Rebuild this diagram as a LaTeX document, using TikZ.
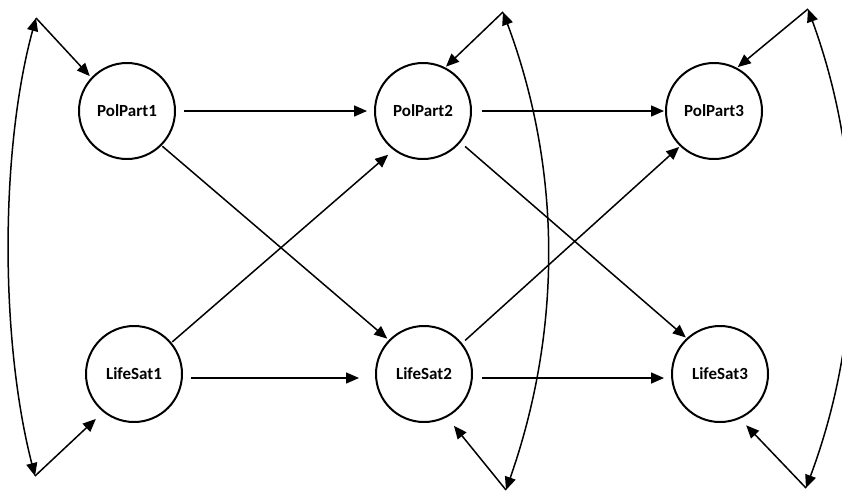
\documentclass[tikz,border=0pt]{standalone}
\usepackage{fontspec}
\setmainfont{Carlito}
\usetikzlibrary{arrows.meta}
\begin{document}
\begin{tikzpicture}[x=1pt,y=-1pt,
  var/.style={circle,draw,line width=2pt,minimum size=96pt,inner sep=0pt,
    font=\bfseries\fontsize{17}{19}\selectfont},
  reg/.style={line width=1.5pt,-{Triangle[length=13pt,width=11pt]}},
  cov/.style={line width=1.5pt,{Triangle[length=13pt,width=11pt]}-{Triangle[length=13pt,width=11pt]}}]
\useasboundingbox (0,0) rectangle (842,496);
\clip (0,0) rectangle (842,496);

% latent variables
\node[var] (p1) at (127,111) {PolPart1};
\node[var] (p2) at (423,111) {PolPart2};
\node[var] (p3) at (714,111) {PolPart3};
\node[var] (l1) at (134,374) {LifeSat1};
\node[var] (l2) at (424,374) {LifeSat2};
\node[var] (l3) at (720,374) {LifeSat3};

% autoregressive paths
\draw[reg,shorten <=8pt,shorten >=7pt] (p1.east) -- (p2.west);
\draw[reg,shorten <=10pt,shorten >=1pt] (p2.east) -- (p3.west);
\draw[reg,shorten <=8pt,shorten >=16pt] ([yshift=-4pt]l1.east) -- ([yshift=-4pt]l2.west);
\draw[reg,shorten <=9pt,shorten >=7pt] ([yshift=-4pt]l2.east) -- ([yshift=-4pt]l3.west);

% cross-lagged paths
\draw[reg,shorten <=1pt,shorten >=2pt] (p1.315) -- (l2.136);
\draw[reg,shorten <=1pt,shorten >=7pt] (l1.40) -- (p2.233);
\draw[reg,shorten <=6pt,shorten >=1pt] (p2.320) -- (l3.133);
\draw[reg,shorten <=4pt,shorten >=1pt] (l2.39) -- (p3.226);

% covariance ends
\coordinate (c1t) at (36,18);
\coordinate (c1b) at (35,476);
\coordinate (c2t) at (503,12);
\coordinate (c2b) at (506,490);
\coordinate (c3t) at (808,9);
\coordinate (c3b) at (806,488);

% residual covariances
\draw[cov] (c1b) .. controls (0,340) and (0,150) .. (c1t);
\draw[cov] (c2t) .. controls (562,170) and (562,330) .. (c2b);
\draw[cov] (c3t) .. controls (865,165) and (865,330) .. (c3b);

\draw[reg,shorten >=2pt] (c1t) -- (p1.137);
\draw[reg,shorten >=10pt] (c1b) -- (l1.231);
\draw[reg,shorten >=1pt] (c2t) -- (p2.63);
\draw[reg,shorten >=11pt] (c2b) -- (l2.298);
\draw[reg,shorten >=1pt] (c3t) -- (p3.62);
\draw[reg,shorten >=9pt] (c3b) -- (l3.294);
\end{tikzpicture}
\end{document}
